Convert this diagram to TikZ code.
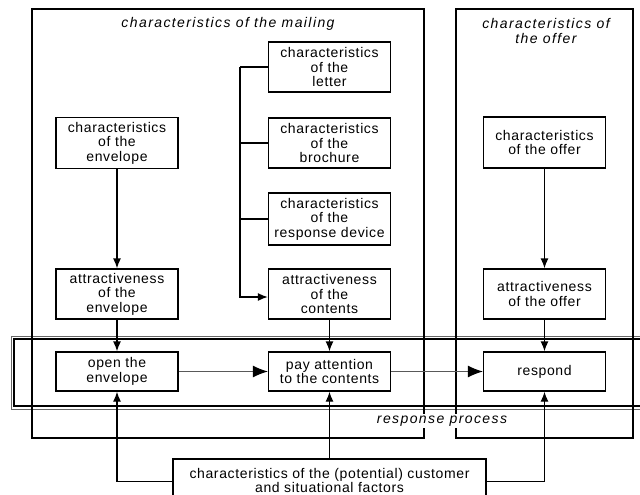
\documentclass[tikz,border=0pt]{standalone}
\usepackage{fontspec}
\setmainfont{Liberation Sans}[LetterSpace=4.5]
\usetikzlibrary{arrows.meta}
\begin{document}
\begin{tikzpicture}[x=1pt,y=-1pt,
  font=\fontsize{14}{14.5}\selectfont,
  box/.style={draw, line width=1.3pt, fill=white, minimum width=122pt, align=center, inner sep=1pt},
  grp/.style={draw, line width=1.3pt},
  ttl/.style={font=\fontsize{14}{14.5}\selectfont\itshape\addfontfeatures{LetterSpace=10}, align=center, inner sep=1pt},
  arr/.style={-{Latex[length=10pt,width=8pt]}, line width=1.3pt},
  harr/.style={-{Latex[length=15pt,width=12pt,color=black]}, line width=1pt, draw=black!65}]
\useasboundingbox (0,0) rectangle (640,495);
% response process double frame
\draw[line width=1pt, black!60] (11,336) rectangle (660,409);
\draw[line width=1.3pt] (14,339) rectangle (660,406);
% group frames
\draw[grp] (32,9) rectangle (424,438);
\draw[grp] (456,9) rectangle (633,438);
\node[ttl] (tmail) at (228,24) {characteristics of the mailing};
\node[ttl] (toffer) at (546,31) {characteristics of\\the offer};
% nodes
\node[box, minimum height=51pt] (env) at (117,143) {characteristics\\of the\\envelope};
\node[box, minimum height=50pt] (letter) at (329.5,67) {characteristics\\of the\\letter};
\node[box, minimum height=50pt] (broch) at (329.5,143) {characteristics\\of the\\brochure};
\node[box, minimum height=52pt] (device) at (329.5,219) {characteristics\\of the\\response device};
\node[box, minimum height=50pt] (attre) at (117,294) {attractiveness\\of the\\envelope};
\node[box, minimum height=50pt] (attrc) at (329.5,294) {attractiveness\\of the\\contents};
\node[box, minimum height=51pt] (coffer) at (544.5,142.5) {characteristics\\of the offer};
\node[box, minimum height=50pt] (attro) at (544.5,294) {attractiveness\\of the offer};
\node[box, minimum height=39pt] (open) at (117,371.5) {open the\\envelope};
\node[box, minimum height=39pt] (pay) at (329.5,371.5) {pay attention\\to the contents};
\node[box, minimum height=39pt] (resp) at (544.5,371.5) {respond};
\node[box, minimum height=43pt, minimum width=313pt] (cust) at (329.5,480.5) {characteristics of the (potential) customer\\and situational factors};
% connectors
\coordinate (bus) at (240,67);
\draw[line width=1.3pt] (letter.west) -- (bus);
\draw[line width=1.3pt] (broch.west) -- (bus |- broch.west);
\draw[line width=1.3pt] (device.west) -- (bus |- device.west);
\draw[arr] (bus) |- ([yshift=-3pt]attrc.west);
\draw[arr] (env) -- (attre);
\draw[arr] (attre) -- (open);
\draw[arr] (attrc) -- (pay);
\draw[arr] (coffer) -- (attro);
\draw[arr] (attro) -- (resp);
\draw[harr] (open) -- (pay);
\draw[harr] (pay) -- (resp);
\draw[arr] ([yshift=-1pt]cust.west) -| (open.south);
\draw[arr] (cust.north) -- (pay.south);
\draw[arr] ([yshift=-1pt]cust.east) -| (resp.south);
% label
\node[ttl, fill=white, inner sep=2pt] (rp) at (442,421) {response process};
\end{tikzpicture}
\end{document}
